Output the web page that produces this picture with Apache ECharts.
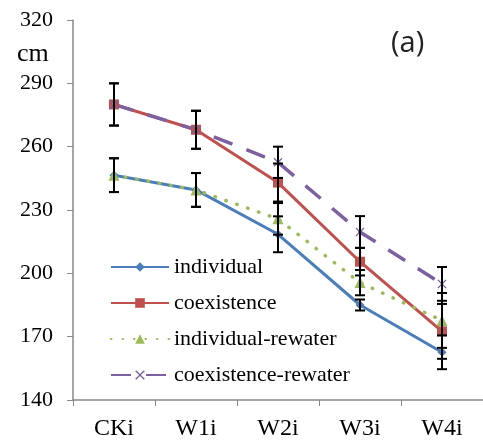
<!DOCTYPE html>
<html>
<head>
<meta charset="utf-8">
<script src="https://cdn.jsdelivr.net/npm/echarts@6/dist/echarts.min.js"></script>
<style>
  html, body { margin: 0; padding: 0; background: #fff; }
  #chart { width: 483px; height: 441px; }
</style>
</head>
<body>
<div id="chart"></div>
<script>
// categories and values
var categories = ['CKi', 'W1i', 'W2i', 'W3i', 'W4i'];
var yTicks = [140, 170, 200, 230, 260, 290, 320];

var individual = [246.5, 239.5, 218.5, 185, 162.6];
var coexistence = [280, 268, 243, 205.5, 172.5];
var individualRewater = [246.5, 239.5, 225.8, 195.6, 177.7];
var coexistenceRewater = [280, 268, 252.6, 219.6, 195];

// error bar half-lengths
var individualErr = [8, 8, 8.5, 2.6, 8];
var coexistenceErr = [10, 9, 9, 6.5, 13];
var individualRewaterErr = [8, 8, 7.5, 6, 13];
var coexistenceRewaterErr = [10, 9, 7.4, 7.5, 8];

var serif = '"Liberation Serif", "DejaVu Serif", serif';

function errData(vals, errs) {
  return vals.map(function (v, i) { return [i, v, errs[i]]; });
}

function renderErr(params, api) {
  var i = api.value(0), v = api.value(1), e = api.value(2);
  var top = api.coord([i, v + e]);
  var bot = api.coord([i, v - e]);
  var hw = 5;
  var st = { stroke: '#000', lineWidth: 2 };
  return {
    type: 'group',
    children: [
      { type: 'line', shape: { x1: top[0], y1: top[1], x2: bot[0], y2: bot[1] }, style: st },
      { type: 'line', shape: { x1: top[0] - hw, y1: top[1], x2: top[0] + hw, y2: top[1] }, style: st },
      { type: 'line', shape: { x1: bot[0] - hw, y1: bot[1], x2: bot[0] + hw, y2: bot[1] }, style: st }
    ]
  };
}

function errSeries(vals, errs) {
  return {
    type: 'custom',
    renderItem: renderErr,
    data: errData(vals, errs),
    z: 10,
    silent: true
  };
}

var crossPath = 'path://M0,1L1,0L5,4L9,0L10,1L6,5L10,9L9,10L5,6L1,10L0,9L4,5Z';

var chart = echarts.init(document.getElementById('chart'));
chart.setOption({
  animation: false,
  backgroundColor: '#fff',
  title: {
    text: '(a)',
    left: 386,
    top: 24,
    textStyle: { fontFamily: '"Open Sans", sans-serif', fontSize: 29, fontWeight: 'normal', color: '#222' }
  },
  graphic: [{
    type: 'text',
    left: 17,
    top: 41,
    style: { text: 'cm', fontFamily: serif, fontSize: 26, fill: '#000' }
  }],
  grid: { left: 73, top: 20, right: -5, bottom: 39 },
  legend: {
    orient: 'vertical',
    left: 105,
    top: 251,
    itemWidth: 58,
    itemHeight: 12,
    itemGap: 14,
    data: ['individual', 'coexistence', 'individual-rewater', 'coexistence-rewater'],
    textStyle: { fontFamily: serif, fontSize: 22, color: '#000' }
  },
  xAxis: {
    type: 'category',
    data: categories,
    boundaryGap: true,
    axisLine: { lineStyle: { color: '#888', width: 1.5 } },
    axisTick: { show: true, length: 6, lineStyle: { color: '#888' } },
    axisLabel: { fontFamily: serif, fontSize: 24, color: '#000', margin: 17 }
  },
  yAxis: {
    type: 'value',
    min: 140,
    max: 320,
    interval: 30,
    splitLine: { show: false },
    axisLine: { show: true, lineStyle: { color: '#888', width: 1.5 } },
    axisTick: { show: true, length: 6, lineStyle: { color: '#888' } },
    axisLabel: {
      fontFamily: serif, fontSize: 22, color: '#000', margin: 20,
      formatter: function (v) { return yTicks.indexOf(v) >= 0 ? String(v) : ''; }
    }
  },
  series: [
    {
      name: 'individual', type: 'line', data: individual,
      symbol: 'diamond', symbolSize: 9,
      itemStyle: { color: '#4A7EBB' },
      lineStyle: { color: '#4A7EBB', width: 3 }
    },
    {
      name: 'coexistence', type: 'line', data: coexistence,
      symbol: 'rect', symbolSize: 10,
      itemStyle: { color: '#C0504D' },
      lineStyle: { color: '#C0504D', width: 3 }
    },
    {
      name: 'individual-rewater', type: 'line', data: individualRewater,
      symbol: 'triangle', symbolSize: 11,
      itemStyle: { color: '#9BBB59' },
      lineStyle: { color: '#9BBB59', width: 3.5, type: [0.5, 11], cap: 'round' }
    },
    {
      name: 'coexistence-rewater', type: 'line', data: coexistenceRewater,
      symbol: crossPath, symbolSize: 9,
      itemStyle: { color: '#7D60A0' },
      lineStyle: { color: '#7D60A0', width: 3.5, type: [20, 15] }
    },
    errSeries(individual, individualErr),
    errSeries(coexistence, coexistenceErr),
    errSeries(individualRewater, individualRewaterErr),
    errSeries(coexistenceRewater, coexistenceRewaterErr)
  ]
});
</script>
</body>
</html>
